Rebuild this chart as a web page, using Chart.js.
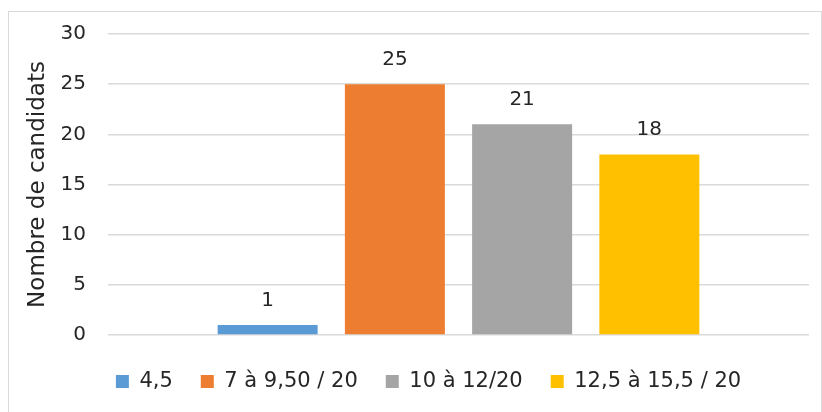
<!DOCTYPE html>
<html>
<head>
<meta charset="utf-8">
<script src="https://cdn.jsdelivr.net/npm/chart.js@4"></script>
<style>
    html, body { margin: 0; padding: 0; background: #fff; overflow: hidden; }
    .frame { position: absolute; left: 0; top: 0; width: 822px; height: 412px; }
    .border { position: absolute; left: 8px; top: 11px; width: 812px; height: 420px; border: 1px solid #d9d9d9; }
</style>
</head>
<body>
<div class="frame">
    <div class="border"></div>
    <canvas id="bar-canvas" width="822" height="412"></canvas>
</div>
<script>
// ========== Data
let seriesNames = ['4,5', '7 à 9,50 / 20', '10 à 12/20', '12,5 à 15,5 / 20'];
let seriesValues = [1, 25, 21, 18];
let seriesColors = ['#5B9BD5', '#ED7D31', '#A5A5A5', '#FFC000'];
let yTicks = [0, 5, 10, 15, 20, 25, 30];

let textColor = '#262626';
let gridColor = '#D9D9D9';
let fontFamily = "'DejaVu Sans', sans-serif";

// @ ========== value labels above bars
let barLabels = {
    id: 'barLabels',
    afterDatasetsDraw(chart) {
        let ctx = chart.ctx;
        ctx.save();
        ctx.fillStyle = textColor;
        ctx.font = '20px ' + fontFamily;
        ctx.textAlign = 'center';
        ctx.textBaseline = 'alphabetic';
        chart.data.datasets.forEach((ds, i) => {
            chart.getDatasetMeta(i).data.forEach((bar, j) => {
                ctx.fillText(ds.data[j], bar.x, bar.y - 19);
            });
        });
        ctx.restore();
    }
};

// legend sits a bit right of the canvas centre
let legendShift = {
    id: 'legendShift',
    afterLayout(chart) {
        chart.legend.left += 12;
        chart.legend.right += 12;
    }
};

let barCanvas = document.getElementById('bar-canvas');
let barChart = new Chart(barCanvas, {
    type: 'bar',
    data: {
        labels: [''],
        datasets: seriesNames.map((name, i) => ({
            label: name,
            data: [seriesValues[i]],
            backgroundColor: seriesColors[i],
            categoryPercentage: 0.726,
            barPercentage: 0.786
        }))
    },
    options: {
        responsive: false,
        animation: false,
        layout: { padding: { top: 22, right: 13, left: 24, bottom: 10 } },
        plugins: {
            tooltip: { enabled: false },
            legend: {
                position: 'bottom',
                labels: {
                    boxWidth: 13,
                    boxHeight: 13,
                    padding: 28,
                    color: textColor,
                    font: { size: 21, family: fontFamily }
                }
            }
        },
        scales: {
            x: {
                grid: { display: false },
                border: { display: false },
                ticks: { display: false }
            },
            y: {
                min: 0,
                max: 30,
                afterBuildTicks: axis => { axis.ticks = yTicks.map(v => ({ value: v })); },
                afterFit: axis => { axis.width = 84; },
                grid: { color: gridColor, lineWidth: 1.5, drawTicks: false },
                border: { display: false },
                ticks: { color: textColor, padding: 22, font: { size: 20, family: fontFamily } },
                title: {
                    display: true,
                    text: 'Nombre de candidats',
                    color: textColor,
                    padding: { top: 0, bottom: 4 },
                    font: { size: 23, family: fontFamily }
                }
            }
        }
    },
    plugins: [barLabels, legendShift]
});
</script>
</body>
</html>
